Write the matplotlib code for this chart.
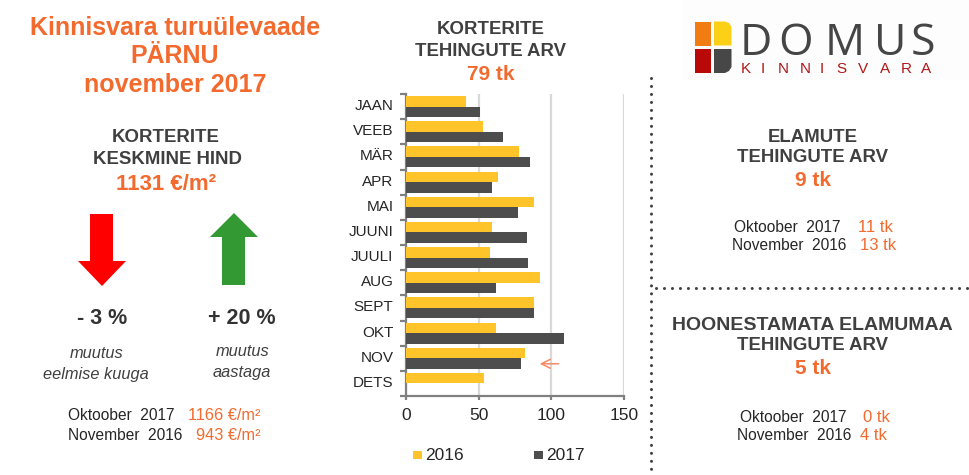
import numpy as np
from matplotlib import pyplot as plt
from matplotlib.patches import Polygon, Rectangle
from matplotlib.transforms import ScaledTranslation

plt.rcParams['font.family'] = ['Liberation Sans', 'DejaVu Sans']

months = ['JAAN', 'VEEB', 'MÄR', 'APR', 'MAI', 'JUUNI', 'JUULI', 'AUG', 'SEPT', 'OKT', 'NOV', 'DETS']
sales_2016 = [41, 53, 78, 63, 88, 59, 58, 92, 88, 62, 82, 54]
sales_2017 = [51, 67, 85, 59, 77, 83, 84, 62, 88, 109, 79, np.nan]
x_ticks = [0, 50, 100, 150]

W = 969
H = 475
ORANGE = '#F26A2E'
DARK = '#404040'
YELLOW = '#FFC42A'
BAR_DARK = '#4D4D4D'

fig = plt.figure(figsize=(W/100, H/100), dpi=100)

# background layer in pixel coordinates
bg = fig.add_axes([0, 0, 1, 1])
bg.set_xlim(0, W)
bg.set_ylim(H, 0)
bg.axis('off')


def txt(x, y, s, size=13, color=DARK, weight='normal', style='normal', ha='center'):
	bg.text(x, y+1, s, fontsize=size, color=color, weight=weight, style=style, ha=ha, va='center')


#--------------------------------------------------------------------
# Left column
txt(175, 27, 'Kinnisvara turuülevaade', 18, ORANGE, 'bold')
txt(175, 55, 'PÄRNU', 18, ORANGE, 'bold')
txt(175, 84, 'november 2017', 18, ORANGE, 'bold')

txt(166, 137, 'KORTERITE', 13.4, DARK, 'bold')
txt(167.5, 159, 'KESKMINE HIND', 13.4, DARK, 'bold')
txt(166, 184, '1131 €/m²', 16, ORANGE, 'bold')

bg.add_patch(Polygon([(90, 214), (113, 214), (113, 261), (126, 261), (102, 286), (78, 261), (90, 261)],
	closed=True, facecolor='#FF0000', edgecolor='none'))
bg.add_patch(Polygon([(222, 285), (245, 285), (245, 237), (258, 237), (234, 213), (210, 237), (222, 237)],
	closed=True, facecolor='#339933', edgecolor='none'))

txt(102, 317, '- 3 %', 15.5, '#333333', 'bold')
txt(242, 317, '+ 20 %', 15.5, '#333333', 'bold')

txt(97, 353, 'muutus', 11.8, DARK, style='italic')
txt(96, 373, 'eelmise kuuga', 11.8, DARK, style='italic')
txt(243, 351, 'muutus', 11.8, DARK, style='italic')
txt(242, 371, 'aastaga', 11.8, DARK, style='italic')

txt(68, 415, 'Oktoober  2017', 11.2, '#262626', ha='left')
txt(188, 415, '1166 €/m²', 11.8, ORANGE, ha='left')
txt(68, 434, 'November  2016', 11.2, '#262626', ha='left')
txt(196, 434, '943 €/m²', 11.8, ORANGE, ha='left')

#--------------------------------------------------------------------
# Middle titles
txt(491, 29, 'KORTERITE', 13.4, DARK, 'bold')
txt(491, 51, 'TEHINGUTE ARV', 13.4, DARK, 'bold')
txt(491, 74, '79 tk', 15, ORANGE, 'bold')

#--------------------------------------------------------------------
# Right column
txt(813, 136, 'ELAMUTE', 13.4, DARK, 'bold')
txt(813, 157, 'TEHINGUTE ARV', 13.4, DARK, 'bold')
txt(813, 180, '9 tk', 15, ORANGE, 'bold')

txt(734, 226, 'Oktoober  2017', 11.2, '#262626', ha='left')
txt(858, 226, '11 tk', 12, ORANGE, ha='left')
txt(732, 245, 'November  2016', 11.2, '#262626', ha='left')
txt(860, 245, '13 tk', 12, ORANGE, ha='left')

txt(812, 324, 'HOONESTAMATA ELAMUMAA', 14, DARK, 'bold')
txt(813, 345, 'TEHINGUTE ARV', 13.4, DARK, 'bold')
txt(813, 368, '5 tk', 15, ORANGE, 'bold')

txt(740, 416, 'Oktoober  2017', 11.2, '#262626', ha='left')
txt(863, 416, '0 tk', 12, ORANGE, ha='left')
txt(737, 435, 'November  2016', 11.2, '#262626', ha='left')
txt(860, 435, '4 tk', 12, ORANGE, ha='left')

# dotted dividers
bg.plot([651, 651], [78, 472], color='#404040', lw=2.2, ls=(0, (0.01, 2.6)), dash_capstyle='round')
bg.plot([656, 968], [288, 288], color='#404040', lw=2.2, ls=(0, (0.01, 2.6)), dash_capstyle='round')

#--------------------------------------------------------------------
# Logo
bg.add_patch(Rectangle((682, 0), 287, 80, facecolor='#FDFDFD', edgecolor='none'))
bg.add_patch(Rectangle((695, 21.5), 16.5, 24, facecolor='#F07C12', edgecolor='none'))
bg.add_patch(Polygon([(714, 21.5), (725, 21.5), (729, 23), (731.5, 27), (731.5, 45.5), (714, 45.5)],
	closed=True, facecolor='#FBD016', edgecolor='none'))
bg.add_patch(Rectangle((695, 49), 16.5, 24, facecolor='#B80808', edgecolor='none'))
bg.add_patch(Polygon([(714, 49), (731.5, 49), (731.5, 67), (729, 71), (725, 73), (714, 73)],
	closed=True, facecolor='#474747', edgecolor='none'))
for lx, letter in zip([740, 778, 825, 874, 911], 'DOMUS'):
	bg.text(lx, 55, letter, fontsize=32, color='#454545', ha='left', va='baseline', fontfamily='Open Sans')
for lx, letter in zip([741, 761, 778, 800, 820, 836, 858, 880, 901, 921], 'KINNISVARA'):
	bg.text(lx, 72.7, letter, fontsize=11, color='#B01818', ha='left', va='baseline')

#--------------------------------------------------------------------
# Chart
left, right, top, bottom = 406, 624, 94, 396
ax = fig.add_axes([left/W, 1-bottom/H, (right-left)/W, (bottom-top)/H])
ax.patch.set_alpha(0)

pos = np.arange(len(months))
bar_h = 0.42
ax.barh(pos-bar_h/2, sales_2016, bar_h, color=YELLOW, zorder=3)
ax.barh(pos+bar_h/2, sales_2017, bar_h, color=BAR_DARK, zorder=3)

ax.set_xlim(0, 150)
ax.set_ylim(len(months)-0.5, -0.5)
ax.set_xticks(x_ticks)
ax.set_yticks(pos)
ax.set_yticklabels(months)
ax.set_yticks(np.arange(len(months)+1)-0.5, minor=True)
ax.tick_params(axis='y', which='major', length=0, pad=9, labelsize=11, labelcolor='#262626')
ax.tick_params(axis='y', which='minor', length=4, width=1.6, color='#808080')
ax.tick_params(axis='x', length=3, width=1.6, color='#808080', labelsize=12.5, labelcolor='#262626', pad=6)
ax.grid(axis='x', color='#D9D9D9', lw=1.6, zorder=0)
for side in ['top', 'right']:
	ax.spines[side].set_visible(False)
for side in ['left', 'bottom']:
	ax.spines[side].set_color('#808080')
	ax.spines[side].set_linewidth(1.6)

# month labels sit slightly above the band centre
shift_up = ScaledTranslation(0, 2/100, fig.dpi_scale_trans)
for label in ax.get_yticklabels():
	label.set_transform(label.get_transform() + shift_up)

# arrow pointing at november
arrow_style = dict(arrowstyle='->', color='#F58A66', lw=1.1, mutation_scale=16, shrinkA=0, shrinkB=0)
ax.annotate('', xy=(92, 10.22), xytext=(105, 10.22), arrowprops=arrow_style, zorder=5)

#--------------------------------------------------------------------
# Legend
bg.add_patch(Rectangle((413, 451), 9, 8, facecolor=YELLOW, edgecolor='none'))
txt(425, 454, '2016', 12.5, '#262626', ha='left')
bg.add_patch(Rectangle((534, 451), 9, 8, facecolor=BAR_DARK, edgecolor='none'))
txt(546, 454, '2017', 12.5, '#262626', ha='left')

plt.savefig('out.png', dpi=100)
